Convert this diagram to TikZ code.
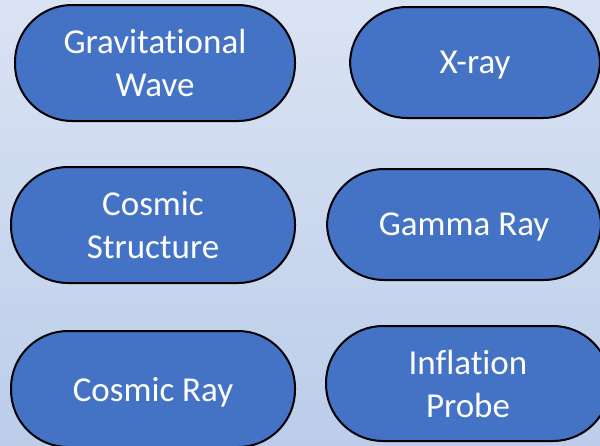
\documentclass[tikz,border=0pt]{standalone}
\usepackage{fontspec}
\setmainfont{Carlito}[RawFeature={-liga}]
\definecolor{bgtop}{HTML}{DAE3F3}
\definecolor{bgbot}{HTML}{BCCDEA}
\definecolor{pillblue}{HTML}{4472C4}
\tikzset{
  pill/.style={draw=black, line width=2pt, fill=pillblue, rounded corners=57pt,
    text=white, align=center, inner sep=0pt,
    font=\fontsize{35}{43}\selectfont},
  oneline/.style={text depth=0pt}
}
\begin{document}
\begin{tikzpicture}[x=1pt,y=-1pt]
\useasboundingbox (0,0) rectangle (600,445);
\shade[top color=bgtop, bottom color=bgbot] (0,0) rectangle (600,445);
\node[pill, minimum width=280pt, minimum height=116pt] (gw) at (155,63) {Gravitational\\Wave};
\node[pill, oneline, minimum width=250pt, minimum height=111pt] (xr) at (475,62.5) {X-ray};
\node[pill, minimum width=284pt, minimum height=116pt] (cs) at (153,225) {Cosmic\\Structure};
\node[pill, oneline, minimum width=274pt, minimum height=111pt] (gr) at (464,224.5) {Gamma Ray};
\node[pill, oneline, minimum width=284pt, minimum height=116pt] (cr) at (153,389) {Cosmic Ray};
\node[pill, minimum width=284pt, minimum height=115pt] (ip) at (468,383.5) {Inflation\\Probe};
\end{tikzpicture}
\end{document}
